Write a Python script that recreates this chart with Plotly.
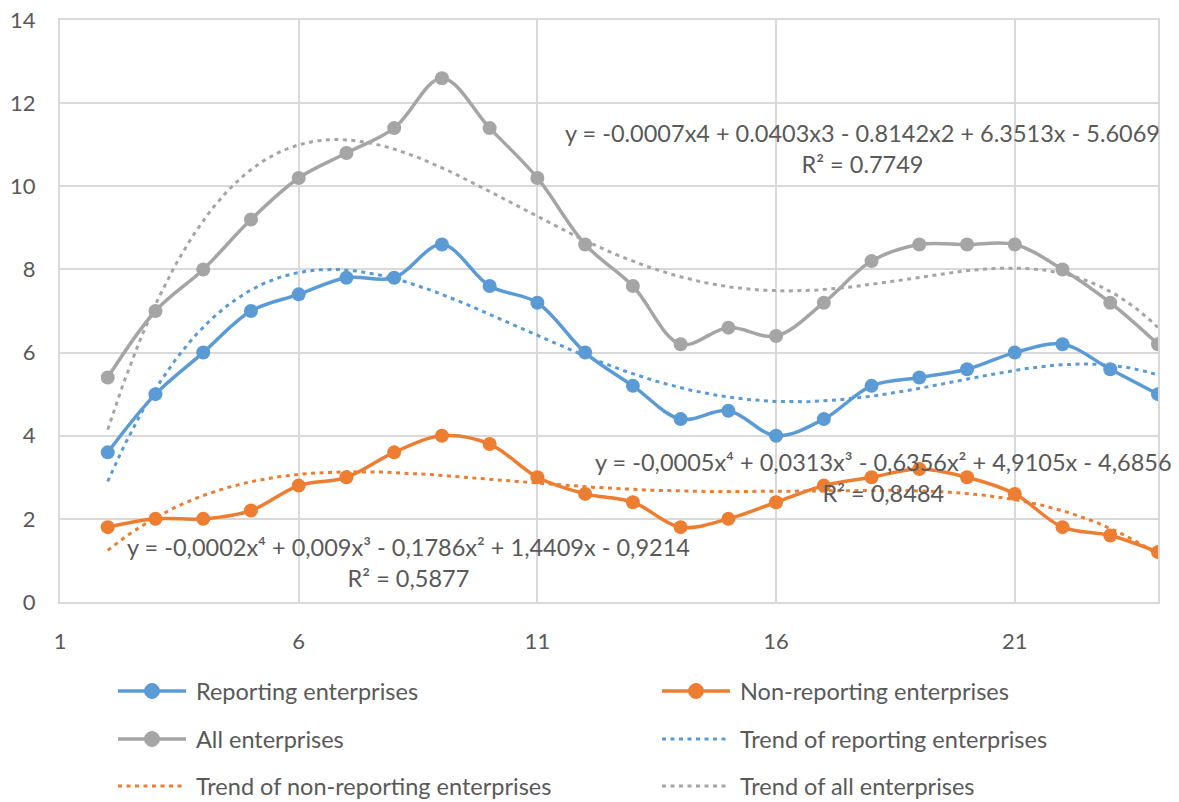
import numpy as np
import plotly.graph_objects as go

# Period index (x) and indicator values per enterprise group
periods = list(range(2, 25))
reporting = [3.6, 5.0, 6.0, 7.0, 7.4, 7.8, 7.8, 8.6, 7.6, 7.2, 6.0, 5.2,
             4.4, 4.6, 4.0, 4.4, 5.2, 5.4, 5.6, 6.0, 6.2, 5.6, 5.0]
non_reporting = [1.8, 2.0, 2.0, 2.2, 2.8, 3.0, 3.6, 4.0, 3.8, 3.0, 2.6, 2.4,
                 1.8, 2.0, 2.4, 2.8, 3.0, 3.2, 3.0, 2.6, 1.8, 1.6, 1.2]
all_ent = [5.4, 7.0, 8.0, 9.2, 10.2, 10.8, 11.4, 12.6, 11.4, 10.2, 8.6, 7.6,
           6.2, 6.6, 6.4, 7.2, 8.2, 8.6, 8.6, 8.6, 8.0, 7.2, 6.2]

# Legend labels
legend_labels = ["Reporting enterprises", "Non-reporting enterprises",
                 "All enterprises", "Trend of reporting enterprises",
                 "Trend of non-reporting enterprises", "Trend of all enterprises"]

# Trendline equation labels
eq_all = "y = -0.0007x4 + 0.0403x3 - 0.8142x2 + 6.3513x - 5.6069<br>R² = 0.7749"
eq_rep = "y = -0,0005x⁴ + 0,0313x³ - 0,6356x² + 4,9105x - 4,6856<br>R² = 0,8484"
eq_non = "y = -0,0002x⁴ + 0,009x³ - 0,1786x² + 1,4409x - 0,9214<br>R² = 0,5877"

BLUE = "#5B9BD5"
ORANGE = "#ED7D31"
GRAY = "#A5A5A5"
TEXT = "#595959"
GRID = "#D9D9D9"
FONT = "Lato, 'Open Sans', sans-serif"
DOTS = "4px,4.5px"
LINE_W = 3.5
MARKER = 14

x = np.array(periods, dtype=float)
xs = np.linspace(x.min(), x.max(), 300)


def poly_trend(values):
    """4th-order least-squares polynomial trend evaluated along the x range."""
    coef = np.polyfit(x, np.array(values, dtype=float), 4)
    return np.polyval(coef, xs)


fig = go.Figure()


def data_trace(name, values, color):
    fig.add_trace(go.Scatter(
        x=periods, y=values, name=name, mode="lines+markers",
        line=dict(color=color, width=LINE_W, shape="spline", smoothing=1.0),
        marker=dict(color=color, size=MARKER),
    ))


def trend_trace(name, values, color):
    fig.add_trace(go.Scatter(
        x=xs, y=poly_trend(values), name=name, mode="lines",
        line=dict(color=color, width=3, dash=DOTS),
    ))


# Trend lines first so the data lines sit on top
trend_trace(legend_labels[3], reporting, BLUE)
trend_trace(legend_labels[4], non_reporting, ORANGE)
trend_trace(legend_labels[5], all_ent, GRAY)
data_trace(legend_labels[0], reporting, BLUE)
data_trace(legend_labels[1], non_reporting, ORANGE)
data_trace(legend_labels[2], all_ent, GRAY)

ann_font = dict(family=FONT, size=23.5, color=TEXT)
fig.add_annotation(x=17.82, y=10.92, text=eq_all, showarrow=False,
                   font=ann_font, xanchor="center", yanchor="middle")
fig.add_annotation(x=18.24, y=3.0, text=eq_rep, showarrow=False,
                   font=ann_font, xanchor="center", yanchor="middle")
fig.add_annotation(x=8.29, y=0.94, text=eq_non, showarrow=False,
                   font=ann_font, xanchor="center", yanchor="middle")

# Two-column legend below the plot area (pixel geometry of plot area)
PL, PR, PT, PB = 60, 1158, 20, 602
W, H = PR - PL, PB - PT


def px_x(p):
    return (p - PL) / W


def px_y(p):
    return (PB - p) / H


legend_items = [
    (legend_labels[0], BLUE, True), (legend_labels[1], ORANGE, True),
    (legend_labels[2], GRAY, True), (legend_labels[3], BLUE, False),
    (legend_labels[4], ORANGE, False), (legend_labels[5], GRAY, False),
]
row_y = [691, 739, 786]
col_x = [118, 662]
for i, (label, color, solid) in enumerate(legend_items):
    r, c = divmod(i, 2)
    yy = px_y(row_y[r])
    x0 = col_x[c]
    fig.add_shape(type="line", xref="paper", yref="paper",
                  x0=px_x(x0), x1=px_x(x0 + 68), y0=yy, y1=yy,
                  line=dict(color=color, width=LINE_W if solid else 3,
                            dash=None if solid else DOTS))
    if solid:
        fig.add_shape(type="circle", xref="paper", yref="paper",
                      xsizemode="pixel", ysizemode="pixel",
                      xanchor=px_x(x0 + 34), yanchor=yy,
                      x0=-7.5, x1=7.5, y0=-7.5, y1=7.5,
                      fillcolor=color, line=dict(color=color, width=1))
    fig.add_annotation(x=px_x(x0 + 76), y=yy, xref="paper", yref="paper",
                       text=label, showarrow=False, xanchor="left",
                       yanchor="middle",
                       font=dict(family=FONT, size=23.5, color=TEXT))

fig.update_layout(
    width=1179, height=802,
    margin=dict(l=PL, r=1179 - PR, t=PT, b=802 - PB, autoexpand=False),
    paper_bgcolor="white", plot_bgcolor="white",
    font=dict(family=FONT, size=22, color=TEXT),
    showlegend=False,
    xaxis=dict(
        range=[1, 24], tick0=1, dtick=5, showgrid=True, gridcolor=GRID,
        gridwidth=1.5, zeroline=False, showline=True, linecolor=GRID,
        linewidth=2, mirror=True, ticks="", ticklabelstandoff=19,
        tickfont=dict(family=FONT, size=22, color=TEXT),
    ),
    yaxis=dict(
        range=[0, 14], dtick=2, showgrid=True, gridcolor=GRID,
        gridwidth=1.5, zeroline=False, showline=True, linecolor=GRID,
        linewidth=2, mirror=True, ticks="", ticklabelstandoff=18,
        tickfont=dict(family=FONT, size=22, color=TEXT),
    ),
)

fig.write_html("out.html")
